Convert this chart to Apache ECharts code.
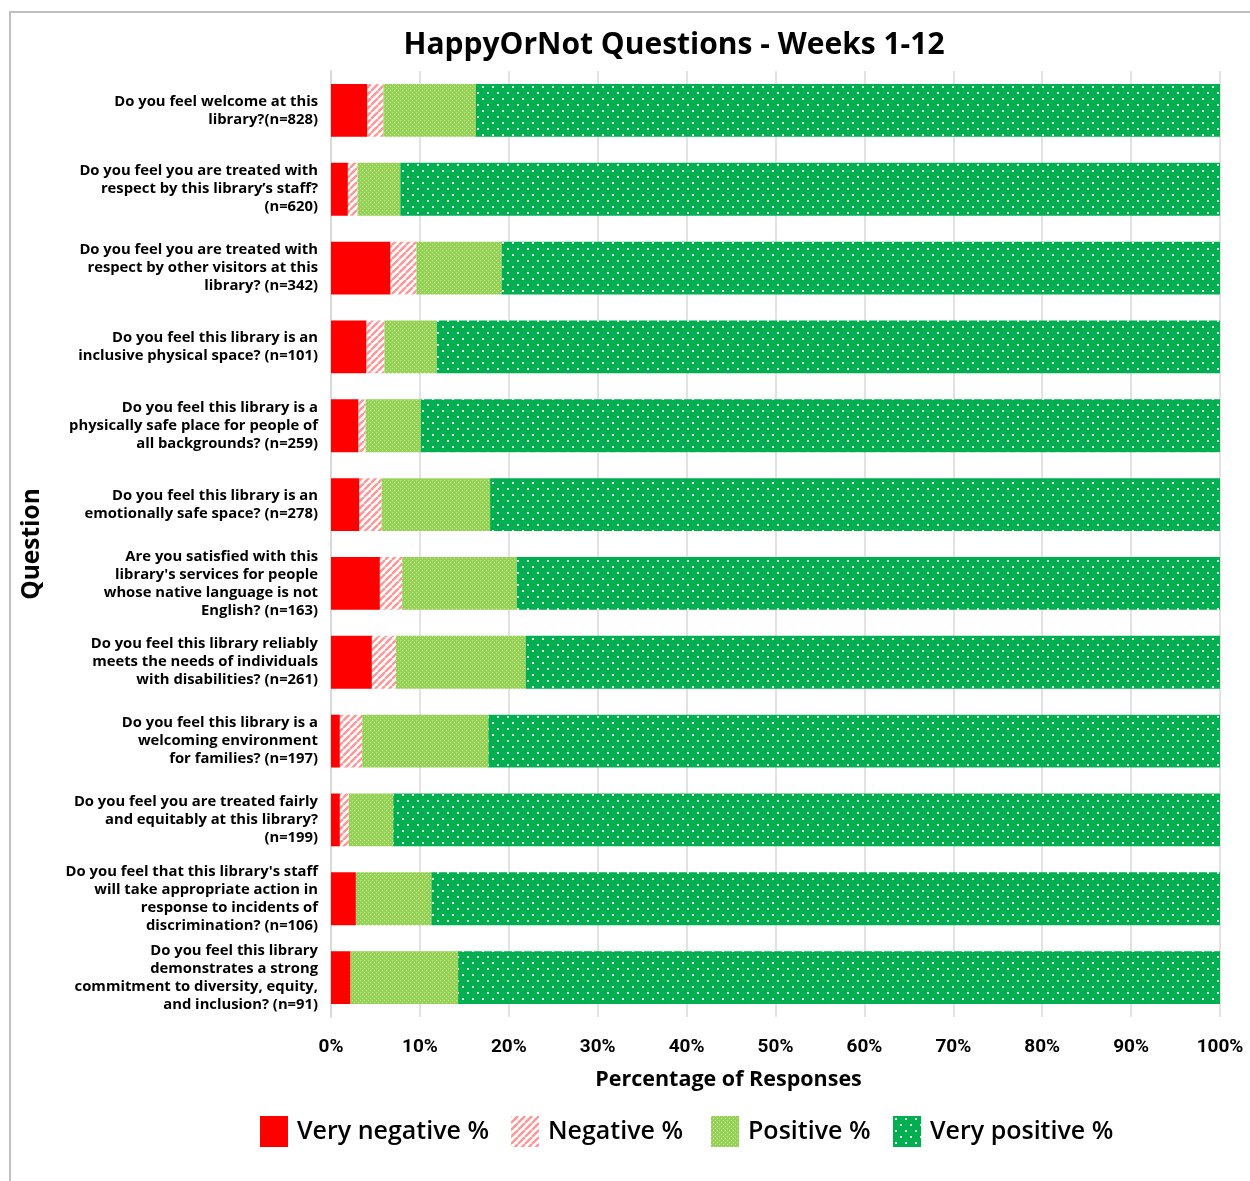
<!DOCTYPE html>
<html><head><meta charset="utf-8">
<script src="https://cdn.jsdelivr.net/npm/echarts@6/dist/echarts.min.js"></script>
<style>html,body{margin:0;padding:0;background:#fff}#c{width:1250px;height:1181px}</style>
</head><body><div id="c"></div>
<script>
const categories = [
  "Do you feel welcome at this\nlibrary?(n=828)",
  "Do you feel you are treated with\nrespect by this library\u2019s staff?\n(n=620)",
  "Do you feel you are treated with\nrespect by other visitors at this\nlibrary? (n=342)",
  "Do you feel this library is an\ninclusive physical space? (n=101)",
  "Do you feel this library is a\nphysically safe place for people of\nall backgrounds? (n=259)",
  "Do you feel this library is an\nemotionally safe space? (n=278)",
  "Are you satisfied with this\nlibrary's services for people\nwhose native language is not\nEnglish? (n=163)",
  "Do you feel this library reliably\nmeets the needs of individuals\nwith disabilities? (n=261)",
  "Do you feel this library is a\nwelcoming environment\nfor families? (n=197)",
  "Do you feel you are treated fairly\nand equitably at this library?\n(n=199)",
  "Do you feel that this library's staff\nwill take appropriate action in\nresponse to incidents of\ndiscrimination? (n=106)",
  "Do you feel this library\ndemonstrates a strong\ncommitment to diversity, equity,\nand inclusion? (n=91)"
];
const seriesNames = ["Very negative %", "Negative %", "Positive %", "Very positive %"];
const veryNegative = [4.1, 1.9, 6.7, 4.0, 3.1, 3.2, 5.5, 4.6, 1.0, 1.0, 2.8, 2.2];
const negative     = [1.8, 1.1, 2.9, 2.0, 0.8, 2.5, 2.5, 2.7, 2.5, 1.0, 0, 0];
const positive     = [10.4, 4.8, 9.6, 5.9, 6.2, 12.2, 12.9, 14.6, 14.2, 5.0, 8.5, 12.1];
const veryPositive = [83.7, 92.2, 80.8, 88.1, 89.9, 82.1, 79.1, 78.1, 82.3, 93.0, 88.7, 85.7];
const xTicks = [0, 10, 20, 30, 40, 50, 60, 70, 80, 90, 100];

function makeTile(w, h, draw) {
  const c = document.createElement('canvas');
  c.width = w; c.height = h;
  draw(c.getContext('2d'));
  return c;
}
const stripeTile = makeTile(7, 7, g => {
  g.fillStyle = '#ffffff'; g.fillRect(0, 0, 7, 7);
  g.strokeStyle = '#FF9797'; g.lineWidth = 2.4;
  for (let k = -7; k <= 7; k += 7) { g.beginPath(); g.moveTo(k, 7); g.lineTo(k + 7, 0); g.stroke(); }
});
const posTile = makeTile(4, 4, g => {
  g.fillStyle = '#95D154'; g.fillRect(0, 0, 4, 4);
  g.fillStyle = '#C9E8A2'; g.fillRect(0, 0, 1, 1); g.fillRect(2, 2, 1, 1);
});
const vpTile = makeTile(10, 12, g => {
  g.fillStyle = '#00B050'; g.fillRect(0, 0, 10, 12);
  g.fillStyle = 'rgba(255,255,255,0.9)';
  g.fillRect(2, 2, 2, 2); g.fillRect(7, 8, 2, 2);
});
const fills = [
  '#FF0000',
  { image: stripeTile, repeat: 'repeat' },
  { image: posTile, repeat: 'repeat' },
  { image: vpTile, repeat: 'repeat' }
];
const dataSets = [veryNegative, negative, positive, veryPositive];

const chart = echarts.init(document.getElementById('c'), null, { renderer: 'canvas' });
const legendLefts = [255, 506, 706, 888];
const legendText = { fontFamily: 'Open Sans', fontSize: 25, fontWeight: 600, color: '#000', padding: [0, 0, 0, 4] };

chart.setOption({
  animation: false,
  backgroundColor: '#fff',
  title: {
    text: 'HappyOrNot Questions - Weeks 1-12',
    left: 669, top: 25, textAlign: 'center',
    textStyle: { fontFamily: 'Open Sans', fontWeight: 700, fontSize: 30, color: '#000' }
  },
  legend: seriesNames.map((n, i) => ({
    data: [n], left: legendLefts[i], top: 1111, icon: 'rect',
    itemWidth: 28, itemHeight: 31, itemGap: 0,
    textStyle: legendText, selectedMode: false
  })),
  grid: { left: 331, right: 30, top: 71, bottom: 164, containLabel: false },
  xAxis: {
    type: 'value', min: 0, max: 100, interval: 10,
    axisLabel: {
      formatter: '{value}%', margin: 21,
      fontFamily: 'Roboto', fontWeight: 700, fontSize: 19, color: '#000'
    },
    axisLine: { show: false }, axisTick: { show: false },
    splitLine: { lineStyle: { color: '#D9D9D9', width: 1.5 } },
    name: 'Percentage of Responses', nameLocation: 'middle', nameGap: 52,
    nameTextStyle: { fontFamily: 'Open Sans', fontWeight: 700, fontSize: 21.5, color: '#000', padding: [0, 94, 0, 0] }
  },
  yAxis: {
    type: 'category', data: categories, inverse: true,
    axisLine: { show: true, lineStyle: { color: '#D9D9D9', width: 2 } },
    axisTick: { show: false },
    axisLabel: {
      margin: 13, fontFamily: 'Open Sans', fontWeight: 700, fontSize: 14.8,
      lineHeight: 18, color: '#000', align: 'right', interval: 0
    },
    name: 'Question', nameLocation: 'middle', nameGap: 286, nameRotate: 90,
    nameTextStyle: { fontFamily: 'Open Sans', fontWeight: 700, fontSize: 24.5, color: '#000' }
  },
  series: seriesNames.map((n, i) => ({
    name: n, type: 'bar', stack: 'total', barCategoryGap: '33%',
    data: dataSets[i],
    itemStyle: { color: fills[i] },
    emphasis: { disabled: true }
  })),
  graphic: [{
    type: 'polyline', silent: true,
    shape: { points: [[10, 1181], [10, 12], [1250, 12]] },
    style: { stroke: '#BFBFBF', lineWidth: 2, fill: null }
  }]
});
</script></body></html>
